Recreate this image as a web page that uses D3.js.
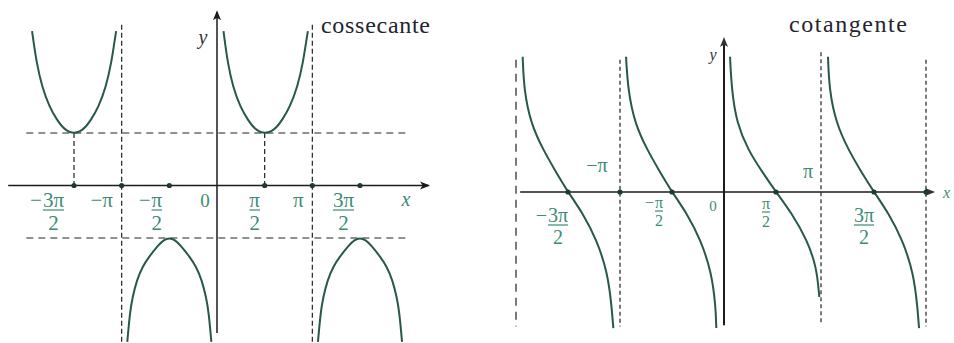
<!DOCTYPE html>
<html lang="pt-br">
<head>
<meta charset="UTF-8">
<title>cossecante e cotangente</title>
<script src="https://d3js.org/d3.v7.min.js"></script>
<style>
  body { margin: 0; background: #fff; }
  .axis { stroke: #1b1b1b; stroke-width: 1.5; fill: none; }
  .dash { stroke: #222; stroke-width: 1.2; fill: none; }
  .curve { stroke: #27584a; stroke-width: 2; fill: none; }
  .lbl { fill: #3d8b76; }
  .title { fill: #23232f; font-size: 24px; }
</style>
</head>
<body>
<svg width="954" height="343"></svg>
<script>
const SERIF = "Liberation Serif, DejaVu Serif, Tinos, Times New Roman, serif";

// x values in multiples of pi
const cscTickValues = [-1.5, -1, -0.5, 0, 0.5, 1, 1.5];
const cscTickLabels = ["−3π/2", "−π", "−π/2", "0", "π/2", "π", "3π/2"];
const cscDots = [-1.5, -1, -0.5, 0.5, 1, 1.5];
const cscAsymptotes = [-1, 1];
const cscLevels = [1, -1];
const cscFeet = [-1.5, 0.5];

// branches of the cosecant [x/pi, y]
const cscBranchA = [[-1.94,2.94],[-1.925,2.75],[-1.895,2.37],[-1.836,1.876],[-1.757,1.495],[-1.678,1.248],[-1.626,1.124],[-1.584,1.055],[-1.542,1.013],[-1.5,1.0],[-1.458,1.013],[-1.416,1.055],[-1.374,1.124],[-1.322,1.248],[-1.243,1.495],[-1.164,1.876],[-1.105,2.37],[-1.075,2.75],[-1.058,2.94]];
const cscBranchB = [[-0.941,-2.98],[-0.914,-2.429],[-0.888,-2.143],[-0.841,-1.8],[-0.783,-1.552],[-0.715,-1.362],[-0.615,-1.133],[-0.558,-1.033],[-0.5,-1.0],[-0.442,-1.033],[-0.385,-1.133],[-0.285,-1.362],[-0.217,-1.552],[-0.159,-1.8],[-0.112,-2.143],[-0.086,-2.429],[-0.059,-2.98]];
const cscBranchC = [[0.068,2.94],[0.082,2.75],[0.11,2.37],[0.166,1.876],[0.245,1.495],[0.324,1.248],[0.376,1.124],[0.418,1.055],[0.46,1.013],[0.503,1.0],[0.546,1.013],[0.59,1.055],[0.632,1.124],[0.684,1.248],[0.764,1.495],[0.845,1.876],[0.905,2.37],[0.936,2.75],[0.953,2.94]];
const cscBranchD = [[1.059,-2.98],[1.086,-2.429],[1.112,-2.143],[1.159,-1.8],[1.217,-1.552],[1.285,-1.362],[1.385,-1.133],[1.442,-1.033],[1.5,-1.0],[1.558,-1.033],[1.615,-1.133],[1.715,-1.362],[1.783,-1.552],[1.841,-1.8],[1.888,-2.143],[1.914,-2.429],[1.941,-2.98]];

const cotTickValues = [-1.5, -1, -0.5, 0, 0.5, 1, 1.5];
const cotTickLabels = ["−3π/2", "−π", "−π/2", "0", "π/2", "π", "3π/2"];
const cotDots = [-1.5, -1, -0.5, 0.5, 1.5, 2];
const cotAsymptotes = [-2, -1, 1, 2];

const cotBranchA = [[-1.936,3.22],[-1.923,2.43],[-1.859,1.64],[-1.738,1.0],[-1.609,0.45],[-1.5,0],[-1.359,-0.5],[-1.224,-1.14],[-1.118,-1.93],[-1.080,-2.74],[-1.064,-3.24]];
const cotBranchB = [[-0.942,3.22],[-0.923,2.43],[-0.859,1.64],[-0.738,1.0],[-0.609,0.45],[-0.5,0],[-0.359,-0.5],[-0.224,-1.14],[-0.118,-1.93],[-0.080,-2.74],[-0.074,-3.24]];
const cotBranchC = [[0.058,3.22],[0.074,2.43],[0.122,1.64],[0.231,1.0],[0.375,0.45],[0.5,0],[0.674,-0.5],[0.844,-1.14],[0.952,-1.79],[0.981,-2.5]];
const cotBranchD = [[1.066,3.22],[1.078,2.43],[1.142,1.64],[1.259,1.0],[1.387,0.45],[1.5,0],[1.639,-0.5],[1.774,-1.14],[1.880,-1.93],[1.918,-2.74],[1.933,-3.24]];

// label placement (layout only)
const cscLabelLayout = [
  {dx: -20.5, y: 207, size: 21}, {dx: -20, y: 207, size: 21}, {dx: -12.5, y: 207, size: 21},
  {dx: -12, y: 207, size: 19}, {dx: -10, y: 207, size: 21}, {dx: -14, y: 207, size: 21},
  {dx: -16.5, y: 207, size: 21}
];
const cotLabelLayout = [
  {dx: -10, y: 222, size: 20}, {dx: -23, y: 172, size: 20}, {dx: -13, y: 208, size: 16},
  {dx: -11, y: 211, size: 15}, {dx: -10, y: 209, size: 16}, {dx: -13, y: 178, size: 20},
  {dx: -10, y: 222, size: 20}
];

const svg = d3.select("svg");

// scales
const xL = d3.scaleLinear().domain([-1.5, 1.5]).range([74, 360]);
const yL = d3.scaleLinear().domain([-1, 1]).range([238, 133]);
const xR = d3.scaleLinear()
  .domain([-2, -1.5, -1, -0.5, 0, 0.5, 1, 1.5, 2])
  .range([516, 568, 620, 672, 724, 776, 821, 874, 926]);
const yR = d3.scaleLinear().domain([-1, 1]).range([234, 150]);

function arrowHead(g, x, y, dir, color) {
  const p = dir === "right"
    ? `M${x},${y} L${x - 10},${y - 4} L${x - 7.5},${y} L${x - 10},${y + 4} Z`
    : `M${x},${y} L${x - 4},${y + 10} L${x},${y + 7.5} L${x + 4},${y + 10} Z`;
  g.append("path").attr("d", p).attr("fill", color);
}

function txt(g) {
  return g.append("text").attr("font-family", SERIF);
}

function tickLabel(g, cx, lay, label) {
  const t = g.append("g").attr("class", "lbl").attr("font-size", lay.size);
  let sign = "", body = label;
  if (body.startsWith("−")) { sign = "−"; body = body.slice(1); }
  if (body.includes("/")) {
    const [num, den] = body.split("/");
    const n = txt(t).attr("x", cx).attr("y", lay.y).attr("text-anchor", "middle").text(num);
    const w = n.node().getComputedTextLength();
    t.append("line")
      .attr("x1", cx - w / 2).attr("x2", cx + w / 2)
      .attr("y1", lay.y + 3).attr("y2", lay.y + 3)
      .attr("stroke", "#3d8b76").attr("stroke-width", 1.2);
    txt(t).attr("x", cx).attr("y", lay.y + lay.size + 2).attr("text-anchor", "middle").text(den);
    if (sign) txt(t).attr("x", cx - w / 2 - 1).attr("y", lay.y).attr("text-anchor", "end").text(sign);
  } else {
    txt(t).attr("x", cx).attr("y", lay.y).attr("text-anchor", "middle").text(label);
  }
}

// ---------- cossecante ----------
const gL = svg.append("g");
const lineL = d3.line().x(d => xL(d[0])).y(d => yL(d[1])).curve(d3.curveBasis);

gL.selectAll(".lev").data(cscLevels).join("line")
  .attr("class", "dash").attr("stroke-dasharray", "7,5")
  .attr("x1", xL(-2)).attr("x2", xL(2))
  .attr("y1", d => yL(d)).attr("y2", d => yL(d));

gL.selectAll(".asy").data(cscAsymptotes).join("line")
  .attr("class", "dash").attr("stroke-dasharray", "5,3")
  .attr("x1", d => xL(d)).attr("x2", d => xL(d))
  .attr("y1", yL(3.06)).attr("y2", yL(-3.1));

gL.selectAll(".foot").data(cscFeet).join("line")
  .attr("class", "dash").attr("stroke-dasharray", "5,3")
  .attr("x1", d => xL(d)).attr("x2", d => xL(d))
  .attr("y1", yL(1)).attr("y2", yL(0));

gL.append("line").attr("class", "axis")
  .attr("x1", xL(-2.19)).attr("x2", xL(2.22)).attr("y1", yL(0)).attr("y2", yL(0));
arrowHead(gL, xL(2.235), yL(0), "right", "#1b1b1b");
gL.append("line").attr("class", "axis")
  .attr("x1", xL(0)).attr("x2", xL(0)).attr("y1", yL(3.3)).attr("y2", yL(-2.81));
arrowHead(gL, xL(0), yL(3.34), "up", "#1b1b1b");

[cscBranchA, cscBranchB, cscBranchC, cscBranchD].forEach(b => {
  gL.append("path").attr("class", "curve").attr("d", lineL(b));
});

gL.selectAll(".dot").data(cscDots).join("circle")
  .attr("cx", d => xL(d)).attr("cy", yL(0)).attr("r", 2.6).attr("fill", "#1d3b31");

cscTickValues.forEach((v, i) => tickLabel(gL, xL(v) + cscLabelLayout[i].dx, cscLabelLayout[i], cscTickLabels[i]));

txt(gL).attr("class", "lbl").attr("x", 406).attr("y", 206)
  .attr("text-anchor", "middle").attr("font-size", 20).attr("font-style", "italic").text("x");
txt(gL).attr("x", 203).attr("y", 44).attr("fill", "#333")
  .attr("text-anchor", "middle").attr("font-size", 20).attr("font-style", "italic").text("y");
txt(gL).attr("class", "title").attr("x", 321).attr("y", 33)
  .attr("textLength", 109).text("cossecante");

// ---------- cotangente ----------
const gR = svg.append("g");
const lineR = d3.line().x(d => xR(d[0])).y(d => yR(d[1])).curve(d3.curveBasis);

gR.selectAll(".asy").data(cotAsymptotes).join("line")
  .attr("class", "dash")
  .attr("stroke", "#444")
  .attr("stroke-dasharray", d => d === -2 ? "8,6" : "4,3")
  .attr("x1", d => xR(d)).attr("x2", d => xR(d))
  .attr("y1", d => yR(d === 1 ? 3.33 : 3.15)).attr("y2", d => yR(d === 1 ? -3.1 : -3.2));

gR.append("line").attr("class", "axis").attr("stroke", "#333")
  .attr("x1", xR(-1.96)).attr("x2", xR(2.07)).attr("y1", yR(0)).attr("y2", yR(0));
arrowHead(gR, xR(2.087), yR(0), "right", "#333");
gR.append("line").attr("class", "axis").style("stroke-width", 2)
  .attr("x1", xR(0)).attr("x2", xR(0)).attr("y1", yR(3.62)).attr("y2", yR(-3.17));
arrowHead(gR, xR(0), yR(3.69), "up", "#333");

[cotBranchA, cotBranchB, cotBranchC, cotBranchD].forEach(b => {
  gR.append("path").attr("class", "curve").attr("d", lineR(b));
});

gR.selectAll(".dot").data(cotDots).join("circle")
  .attr("cx", d => xR(d)).attr("cy", yR(0)).attr("r", 2.6).attr("fill", "#1d3b31");

cotTickValues.forEach((v, i) => tickLabel(gR, xR(v) + cotLabelLayout[i].dx, cotLabelLayout[i], cotTickLabels[i]));

txt(gR).attr("class", "lbl").attr("x", 943).attr("y", 198)
  .attr("font-size", 16).attr("font-style", "italic").text("x");
txt(gR).attr("x", 713).attr("y", 60).attr("fill", "#333")
  .attr("text-anchor", "middle").attr("font-size", 16).attr("font-style", "italic").text("y");
txt(gR).attr("class", "title").attr("x", 789).attr("y", 32)
  .attr("textLength", 118).text("cotangente");
</script>
</body>
</html>
